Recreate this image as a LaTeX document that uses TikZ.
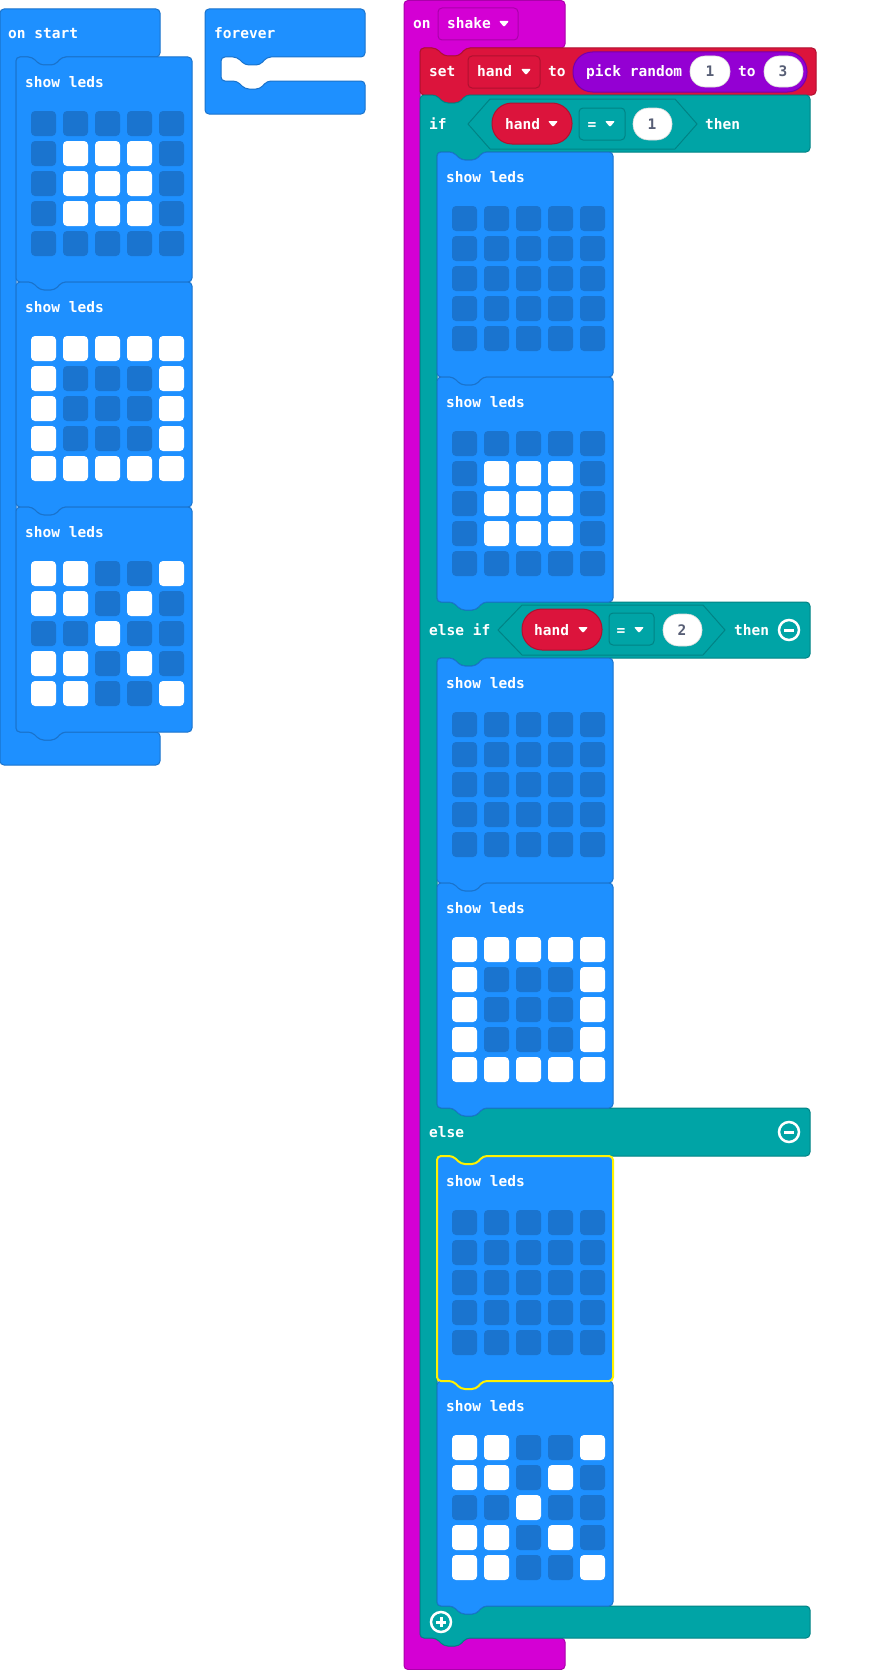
\documentclass[tikz,border=0pt]{standalone}
\usepackage{fontspec}
\newfontfamily\blkfont{DejaVu Sans Mono Bold}

\definecolor{basic}{HTML}{1E90FF}
\definecolor{basicline}{HTML}{1A73CC}
\definecolor{led0}{HTML}{1A74CF}
\definecolor{led1}{HTML}{FFFFFF}
\definecolor{logic}{HTML}{00A4A6}
\definecolor{logicline}{HTML}{008385}
\definecolor{variable}{HTML}{DC143C}
\definecolor{variableline}{HTML}{B0102F}
\definecolor{mathpurple}{HTML}{9400D3}
\definecolor{mathline}{HTML}{7600A9}
\definecolor{inputcol}{HTML}{D400D4}
\definecolor{inputline}{HTML}{AA00AA}
\definecolor{numtext}{HTML}{575E75}
\definecolor{hilite}{HTML}{FFF200}

% LED patterns (rows top to bottom)
\def\patBlank{{0,0,0,0,0},{0,0,0,0,0},{0,0,0,0,0},{0,0,0,0,0},{0,0,0,0,0}}
\def\patRock{{0,0,0,0,0},{0,1,1,1,0},{0,1,1,1,0},{0,1,1,1,0},{0,0,0,0,0}}
\def\patPaper{{1,1,1,1,1},{1,0,0,0,1},{1,0,0,0,1},{1,0,0,0,1},{1,1,1,1,1}}
\def\patScissors{{1,1,0,0,1},{1,1,0,1,0},{0,0,1,0,0},{1,1,0,1,0},{1,1,0,0,1}}

% show leds block: [outline options]{name}{x}{y}{pattern}
\newcommand\ledblock[5][draw=basicline]{%
  \draw[stmt, #1] (#3,#4) -- ++(16,0) -- ++(8,8) -- ++(15,0) -- ++(7,-8)
    -- ({#3+176},#4) -- ({#3+176},{#4+225}) -- ({#3+46},{#4+225})
    -- ++(-7,8) -- ++(-15,0) -- ++(-8,-8) -- (#3,{#4+225}) -- cycle;
  \node[lbl] (#2) at ({#3+9},{#4+30}) {show leds};
  \foreach \row [count=\i] in #5 {
    \foreach \v [count=\j] in \row
      \fill[led\v, rounded corners=4] ({#3+15+32*(\j-1)},{#4+54+30*(\i-1)}) rectangle ++(25,25);
  }
}
% dropdown arrow
\newcommand\droptri[2]{\fill[white, rounded corners=1] (#1,#2) ++(-5,-3) -- ++(10,0) -- ++(-5,6) -- cycle;}

\begin{document}
\begin{tikzpicture}[
    x=1pt, y=-1pt,
    stmt/.style={fill=basic, line width=1, rounded corners=4},
    cblock/.style={line width=1, rounded corners=4},
    lbl/.style={anchor=base west, inner sep=0, text=white, font=\blkfont\fontsize{14.5}{16}\selectfont},
    num/.style={anchor=base, inner sep=0, text=numtext, font=\blkfont\fontsize{14.5}{16}\selectfont},
    field/.style={line width=1, rounded corners=4},
    oval/.style={fill=white, draw=black!15, line width=0.6},
    toggle/.style={draw=white, line width=2.5, fill=logic}
]
\useasboundingbox (0,0) rectangle (868,1670);
\fill[white] (0,0) rectangle (868,1670);

% on start
\draw[cblock, fill=basic, draw=basicline] (0,9) -- (160,9) -- (160,57) -- (62,57) -- ++(-7,8) -- ++(-15,0) -- ++(-8,-8)
  -- (16,57) -- (16,732) -- (32,732) -- ++(8,8) -- ++(15,0) -- ++(7,-8) -- (160,732) -- (160,765) -- (0,765) -- cycle;
\node[lbl] (onstart) at (8,39) {on start};
\ledblock{start1}{16}{57}{\patRock}
\ledblock{start2}{16}{282}{\patPaper}
\ledblock{start3}{16}{507}{\patScissors}

% forever
\draw[cblock, fill=basic, draw=basicline] (205,9) -- (365,9) -- (365,57) -- (267,57) -- ++(-7,8) -- ++(-15,0) -- ++(-8,-8)
  -- (221,57) -- (221,81) -- (237,81) -- ++(8,8) -- ++(15,0) -- ++(7,-8) -- (365,81) -- (365,114) -- (205,114) -- cycle;
\node[lbl] (forever) at (214,39) {forever};

% on shake
\draw[cblock, fill=inputcol, draw=inputline] (404,0.5) -- (565,0.5) -- (565,48) -- (466,48) -- ++(-7,8) -- ++(-15,0) -- ++(-8,-8)
  -- (420,48) -- (420,1638) -- (436,1638) -- ++(8,8) -- ++(15,0) -- ++(7,-8) -- (565,1638) -- (565,1669.5) -- (404,1669.5) -- cycle;
\node[lbl] (on) at (413,29) {on};
\draw[field, fill=inputcol, draw=inputline] (438,8) rectangle (518,40);
\node[lbl] (shake) at (447,29) {shake};
\droptri{504}{24}

% set hand to pick random
\draw[cblock, fill=variable, draw=variableline] (420,48) -- ++(16,0) -- ++(8,8) -- ++(15,0) -- ++(7,-8) -- (816,48) -- (816,95)
  -- (466,95) -- ++(-7,8) -- ++(-15,0) -- ++(-8,-8) -- (420,95) -- cycle;
\node[lbl] (set) at (429,77) {set};
\draw[field, fill=variable, draw=variableline] (468,56) rectangle (540,88);
\node[lbl] (sethand) at (477,77) {hand};
\droptri{526}{72}
\node[lbl] (setto) at (548,77) {to};
\draw[fill=mathpurple, draw=mathline, line width=1, rounded corners=19.5] (573,52) rectangle (807,92);
\node[lbl] (pick) at (586,77) {pick random};
\draw[oval, rounded corners=15] (690,56) rectangle (730,87);
\node[num] (low) at (710,77) {1};
\node[lbl] (pickto) at (738,77) {to};
\draw[oval, rounded corners=15] (764,56) rectangle (803,87);
\node[num] (high) at (783,77) {3};

% if / else if / else
\draw[cblock, fill=logic, draw=logicline] (420,95) -- (436,95) -- ++(8,8) -- ++(15,0) -- ++(7,-8) -- (810,95) -- (810,152)
  -- (483,152) -- ++(-7,8) -- ++(-15,0) -- ++(-8,-8) -- (437,152) -- (437,602)
  -- (453,602) -- ++(8,8) -- ++(15,0) -- ++(7,-8) -- (810,602) -- (810,658)
  -- (483,658) -- ++(-7,8) -- ++(-15,0) -- ++(-8,-8) -- (437,658) -- (437,1108)
  -- (453,1108) -- ++(8,8) -- ++(15,0) -- ++(7,-8) -- (810,1108) -- (810,1156)
  -- (483,1156) -- ++(-7,8) -- ++(-15,0) -- ++(-8,-8) -- (437,1156) -- (437,1606)
  -- (453,1606) -- ++(8,8) -- ++(15,0) -- ++(7,-8) -- (810,1606) -- (810,1638)
  -- (466,1638) -- ++(-7,8) -- ++(-15,0) -- ++(-8,-8) -- (420,1638) -- cycle;

% if hand = 1 then
\node[lbl] (if) at (429,129) {if};
\draw[fill=logic, draw=logicline, line width=1] (468,124) -- (490,99) -- (675,99) -- (697,124) -- (675,149) -- (490,149) -- cycle;
\draw[fill=variable, draw=variableline, line width=1, rounded corners=20] (492,103) rectangle (572,144);
\node[lbl] (ifhand) at (505,129) {hand};
\droptri{553}{124}
\draw[field, fill=logic, draw=logicline] (579,108) rectangle (625,140);
\node[lbl, anchor=base] (ifeq) at (592,129) {=};
\droptri{610}{124}
\draw[oval, rounded corners=15.5] (633,108) rectangle (672,140);
\node[num] (ifone) at (652,129) {1};
\node[lbl] (ifthen) at (705,129) {then};
\ledblock{ifleds1}{437}{152}{\patBlank}
\ledblock{ifleds2}{437}{377}{\patRock}

% else if hand = 2 then
\node[lbl] (elseif) at (429,635) {else if};
\draw[fill=logic, draw=logicline, line width=1] (498,630) -- (522,605) -- (703,605) -- (725,630) -- (703,655) -- (522,655) -- cycle;
\draw[fill=variable, draw=variableline, line width=1, rounded corners=20] (522,609) rectangle (602,650);
\node[lbl] (elifhand) at (534,635) {hand};
\droptri{583}{630}
\draw[field, fill=logic, draw=logicline] (609,613) rectangle (654,645);
\node[lbl, anchor=base] (elifeq) at (621,635) {=};
\droptri{639}{630}
\draw[oval, rounded corners=15.5] (663,614) rectangle (702,646);
\node[num] (eliftwo) at (682,635) {2};
\node[lbl] (elifthen) at (734,635) {then};
\draw[toggle] (789,630) circle (10);
\draw[white, line width=3] (784,630) -- (794,630);
\ledblock{elifleds1}{437}{658}{\patBlank}
\ledblock{elifleds2}{437}{883}{\patPaper}

% else
\node[lbl] (else) at (429,1137) {else};
\draw[toggle] (789,1132) circle (10);
\draw[white, line width=3] (784,1132) -- (794,1132);
\ledblock{elseleds2}{437}{1381}{\patScissors}
\ledblock[draw=hilite, line width=2]{elseleds1}{437}{1156}{\patBlank}

% add branch
\draw[toggle] (441,1622) circle (10);
\draw[white, line width=3] (436,1622) -- (446,1622) (441,1617) -- (441,1627);

\end{tikzpicture}
\end{document}
